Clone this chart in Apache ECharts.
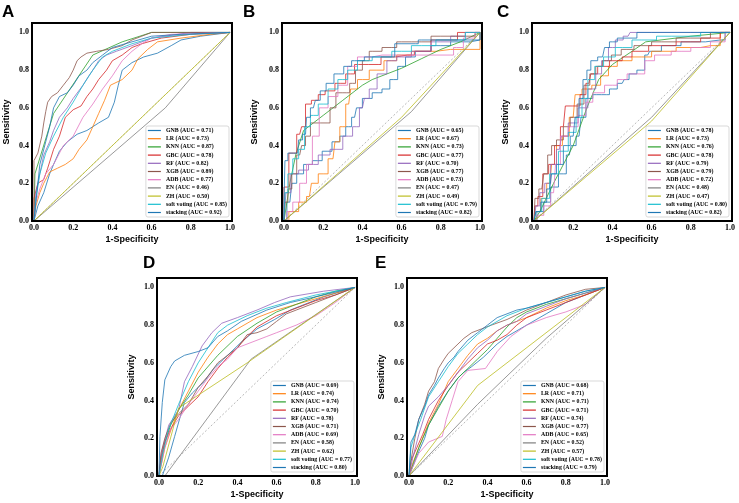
<!DOCTYPE html>
<html><head><meta charset="utf-8">
<script src="https://cdn.jsdelivr.net/npm/echarts@6/dist/echarts.min.js"></script>
<style>html,body{margin:0;padding:0;background:#fff}#c{width:739px;height:503px}</style>
</head><body><div id="c"></div>
<script>
const MODELS = ['GNB','LR','KNN','GBC','RF','XGB','ADB','EN','ZH','soft voting','stacking'];
const COLORS = ['#1f77b4','#ff7f0e','#2ca02c','#d62728','#9467bd','#8c564b','#e377c2','#7f7f7f','#bcbd22','#17becf','#1f77b4'];
const TICKS = [0,0.2,0.4,0.6,0.8,1.0];
const DIAGONAL = [[0,0],[1,1]];

const AUC_A = [0.71,0.73,0.87,0.78,0.82,0.89,0.77,0.46,0.50,0.85,0.92];
const AUC_B = [0.65,0.67,0.73,0.77,0.70,0.77,0.73,0.47,0.49,0.79,0.82];
const AUC_C = [0.78,0.73,0.76,0.78,0.79,0.79,0.72,0.48,0.47,0.80,0.82];
const AUC_D = [0.69,0.74,0.74,0.70,0.78,0.71,0.69,0.58,0.62,0.77,0.80];
const AUC_E = [0.68,0.71,0.71,0.71,0.74,0.77,0.65,0.52,0.57,0.78,0.79];

// ---- Panel A ----
const A_GNB = [[0,0],[0.02,0.08],[0.05,0.15],[0.08,0.25],[0.1,0.3],[0.13,0.37],[0.17,0.42],[0.22,0.46],[0.27,0.48],[0.33,0.52],[0.38,0.55],[0.41,0.63],[0.43,0.72],[0.45,0.8],[0.5,0.84],[0.56,0.87],[0.63,0.89],[0.7,0.93],[0.75,0.96],[0.85,0.98],[1,1]];
const A_LR = [[0,0],[0.01,0.08],[0.03,0.15],[0.05,0.2],[0.08,0.26],[0.12,0.28],[0.16,0.3],[0.2,0.33],[0.23,0.38],[0.27,0.43],[0.3,0.5],[0.33,0.57],[0.36,0.64],[0.39,0.72],[0.45,0.75],[0.5,0.8],[0.53,0.86],[0.58,0.91],[0.63,0.95],[0.75,0.97],[0.9,0.99],[1,1]];
const A_KNN = [[0,0],[0.005,0.25],[0.1,0.57],[0.3,0.88],[0.45,0.95],[0.6,1.0],[1,1]];
const A_GBC = [[0,0],[0,0.12],[0.02,0.2],[0.05,0.22],[0.07,0.28],[0.1,0.38],[0.13,0.45],[0.16,0.55],[0.2,0.59],[0.24,0.61],[0.27,0.66],[0.3,0.7],[0.33,0.75],[0.37,0.8],[0.4,0.85],[0.45,0.88],[0.5,0.92],[0.55,0.94],[0.65,0.97],[0.8,0.99],[1,1]];
const A_RF = [[0,0],[0.01,0.15],[0.03,0.25],[0.05,0.35],[0.08,0.42],[0.1,0.48],[0.13,0.55],[0.17,0.6],[0.2,0.65],[0.25,0.72],[0.28,0.77],[0.3,0.8],[0.33,0.85],[0.37,0.88],[0.42,0.9],[0.5,0.93],[0.6,0.97],[0.8,1.0],[1,1]];
const A_XGB = [[0,0],[0,0.32],[0.02,0.36],[0.04,0.45],[0.05,0.52],[0.06,0.58],[0.07,0.63],[0.09,0.66],[0.12,0.68],[0.15,0.72],[0.18,0.76],[0.2,0.8],[0.22,0.85],[0.24,0.87],[0.27,0.89],[0.32,0.9],[0.38,0.91],[0.45,0.93],[0.5,0.96],[0.55,0.98],[0.6,1.0],[1,1]];
const A_ADB = [[0,0],[0.01,0.1],[0.03,0.17],[0.06,0.25],[0.1,0.3],[0.15,0.4],[0.2,0.45],[0.25,0.55],[0.3,0.62],[0.35,0.7],[0.4,0.77],[0.45,0.85],[0.5,0.9],[0.55,0.94],[0.6,0.97],[0.7,0.99],[1,1]];
const A_EN = [[0,0],[0.67,0.6],[1,1]];
const A_ZH = [[0,0],[1,1]];
const A_SOFT = [[0,0],[0.01,0.12],[0.03,0.25],[0.06,0.36],[0.1,0.45],[0.15,0.55],[0.2,0.63],[0.25,0.72],[0.3,0.8],[0.35,0.87],[0.4,0.9],[0.5,0.94],[0.6,0.97],[0.8,0.99],[1,1]];
const A_STACK = [[0,0],[0.01,0.1],[0.03,0.3],[0.06,0.42],[0.08,0.5],[0.1,0.6],[0.13,0.66],[0.17,0.68],[0.2,0.72],[0.23,0.77],[0.27,0.8],[0.3,0.84],[0.35,0.88],[0.4,0.92],[0.5,0.95],[0.6,0.98],[0.75,0.99],[1,1]];

// ---- Panel B ----
const B_GNB = [[0,0],[0.03,0.1],[0.05,0.2],[0.08,0.25],[0.12,0.3],[0.17,0.32],[0.22,0.37],[0.27,0.42],[0.3,0.45],[0.33,0.5],[0.36,0.55],[0.38,0.6],[0.42,0.65],[0.48,0.68],[0.52,0.7],[0.56,0.75],[0.6,0.82],[0.64,0.87],[0.7,0.9],[0.8,0.93],[0.9,0.95],[1,0.96],[1,1]];
const B_LR = [[0,0],[0.05,0.05],[0.1,0.1],[0.13,0.13],[0.15,0.2],[0.2,0.25],[0.25,0.33],[0.27,0.42],[0.3,0.5],[0.33,0.62],[0.35,0.7],[0.4,0.75],[0.47,0.8],[0.55,0.85],[0.6,0.88],[0.7,0.9],[0.85,0.91],[1,0.91],[1,1]];
const B_KNN = [[0,0],[0.03,0.2],[0.06,0.35],[0.1,0.48],[0.15,0.52],[0.2,0.56],[0.3,0.64],[0.4,0.72],[0.45,0.75],[0.5,0.77],[0.6,0.81],[0.7,0.86],[0.8,0.91],[0.9,0.95],[1,1]];
const B_GBC = [[0,0],[0,0.18],[0.05,0.36],[0.08,0.46],[0.1,0.5],[0.12,0.62],[0.16,0.64],[0.19,0.67],[0.23,0.69],[0.29,0.73],[0.34,0.78],[0.38,0.83],[0.48,0.83],[0.51,0.87],[0.63,0.88],[0.7,0.9],[0.8,0.96],[0.97,1.0],[1,1]];
const B_RF = [[0,0],[0.02,0.15],[0.05,0.25],[0.1,0.27],[0.15,0.3],[0.2,0.35],[0.27,0.38],[0.33,0.45],[0.37,0.5],[0.4,0.6],[0.42,0.65],[0.45,0.7],[0.5,0.78],[0.55,0.85],[0.6,0.87],[0.7,0.9],[0.8,0.95],[0.9,0.98],[0.95,1],[1,1]];
const B_XGB = [[0,0],[0.01,0.1],[0.03,0.17],[0.05,0.25],[0.08,0.35],[0.1,0.4],[0.12,0.45],[0.15,0.52],[0.22,0.52],[0.25,0.6],[0.28,0.68],[0.32,0.68],[0.35,0.73],[0.38,0.8],[0.42,0.85],[0.45,0.9],[0.55,0.92],[0.6,0.95],[0.7,0.95],[0.8,0.98],[0.95,0.98],[1,1]];
const B_ADB = [[0,0],[0.03,0.05],[0.06,0.1],[0.1,0.2],[0.13,0.3],[0.16,0.45],[0.2,0.6],[0.25,0.66],[0.3,0.72],[0.35,0.82],[0.4,0.87],[0.5,0.88],[0.6,0.88],[0.85,0.88],[0.88,0.92],[0.95,0.97],[1,1]];
const B_EN = [[0,0],[0.65,0.58],[1,1]];
const B_ZH = [[0,0],[0.6,0.55],[1,1]];
const B_SOFT = [[0,0],[0.01,0.15],[0.03,0.25],[0.06,0.33],[0.09,0.38],[0.12,0.5],[0.15,0.56],[0.2,0.62],[0.25,0.7],[0.3,0.75],[0.35,0.8],[0.4,0.85],[0.5,0.87],[0.6,0.9],[0.7,0.93],[0.85,0.96],[1,1]];
const B_STACK = [[0,0],[0,0.1],[0.01,0.32],[0.03,0.36],[0.07,0.36],[0.08,0.43],[0.11,0.46],[0.12,0.55],[0.15,0.6],[0.17,0.64],[0.2,0.69],[0.23,0.73],[0.28,0.78],[0.33,0.82],[0.36,0.85],[0.46,0.87],[0.67,0.94],[0.7,0.96],[1,0.96],[1,1]];

// ---- Panel C ----
const C_GNB = [[0,0],[0.03,0.05],[0.07,0.1],[0.1,0.18],[0.15,0.25],[0.18,0.35],[0.2,0.4],[0.23,0.45],[0.25,0.55],[0.28,0.65],[0.32,0.67],[0.37,0.67],[0.4,0.7],[0.45,0.73],[0.47,0.75],[0.5,0.78],[0.55,0.8],[0.58,0.88],[0.6,0.9],[0.7,0.93],[0.8,0.95],[0.95,0.96],[1,1]];
const C_LR = [[0,0],[0.02,0.05],[0.05,0.12],[0.08,0.2],[0.1,0.3],[0.13,0.4],[0.16,0.45],[0.2,0.55],[0.22,0.67],[0.27,0.7],[0.32,0.72],[0.36,0.77],[0.4,0.82],[0.45,0.85],[0.55,0.87],[0.65,0.9],[0.8,0.92],[0.9,0.93],[1,1]];
const C_KNN = [[0,0],[0.03,0.05],[0.1,0.2],[0.2,0.4],[0.27,0.6],[0.33,0.75],[0.4,0.83],[0.5,0.9],[0.57,0.95],[0.8,0.98],[1,1]];
const C_GBC = [[0,0],[0.01,0.08],[0.03,0.13],[0.06,0.25],[0.09,0.3],[0.12,0.4],[0.15,0.5],[0.17,0.61],[0.22,0.61],[0.25,0.67],[0.28,0.73],[0.3,0.78],[0.35,0.82],[0.42,0.85],[0.48,0.87],[0.52,0.9],[0.65,0.93],[0.8,0.95],[0.9,0.97],[1,1]];
const C_RF = [[0,0],[0.02,0.08],[0.04,0.15],[0.07,0.2],[0.1,0.3],[0.13,0.38],[0.15,0.45],[0.2,0.52],[0.25,0.6],[0.3,0.7],[0.33,0.78],[0.36,0.85],[0.4,0.92],[0.43,0.96],[0.48,0.98],[0.5,1],[1,1]];
const C_XGB = [[0,0],[0.01,0.12],[0.04,0.17],[0.06,0.25],[0.08,0.35],[0.1,0.4],[0.13,0.43],[0.17,0.5],[0.2,0.55],[0.24,0.62],[0.27,0.72],[0.3,0.78],[0.33,0.82],[0.37,0.85],[0.42,0.88],[0.47,0.91],[0.55,0.93],[0.65,0.95],[0.8,0.97],[1,1]];
const C_ADB = [[0,0],[0.03,0.03],[0.07,0.08],[0.1,0.15],[0.12,0.3],[0.15,0.45],[0.2,0.5],[0.25,0.56],[0.28,0.63],[0.32,0.68],[0.4,0.72],[0.45,0.75],[0.5,0.78],[0.55,0.78],[0.58,0.85],[0.65,0.88],[0.75,0.9],[0.85,0.92],[0.95,0.95],[1,1]];
const C_EN = [[0,0],[0.6,0.55],[1,1]];
const C_ZH = [[0,0],[0.6,0.53],[1,1]];
const C_SOFT = [[0,0],[0.02,0.05],[0.06,0.12],[0.1,0.25],[0.15,0.37],[0.2,0.47],[0.23,0.55],[0.26,0.65],[0.29,0.75],[0.33,0.82],[0.38,0.87],[0.45,0.92],[0.55,0.96],[0.7,0.98],[1,1]];
const C_STACK = [[0,0],[0.02,0.05],[0.05,0.1],[0.08,0.17],[0.1,0.25],[0.13,0.3],[0.17,0.4],[0.2,0.45],[0.22,0.55],[0.24,0.65],[0.26,0.75],[0.28,0.8],[0.3,0.85],[0.35,0.87],[0.37,0.92],[0.4,0.95],[0.45,0.97],[0.6,1],[1,1]];

// ---- Panel D ----
const D_GNB = [[0,0],[0.017,0],[0.05,0.1],[0.08,0.21],[0.11,0.32],[0.13,0.39],[0.17,0.44],[0.23,0.5],[0.28,0.57],[0.33,0.62],[0.42,0.71],[0.5,0.78],[0.59,0.83],[0.67,0.88],[0.84,0.95],[1,1]];
const D_LR = [[0,0],[0.01,0.05],[0.03,0.15],[0.07,0.27],[0.1,0.35],[0.15,0.45],[0.2,0.55],[0.25,0.63],[0.3,0.7],[0.35,0.75],[0.4,0.78],[0.5,0.84],[0.6,0.88],[0.7,0.91],[0.8,0.94],[0.9,0.97],[1,1]];
const D_KNN = [[0,0],[0.01,0.08],[0.03,0.18],[0.06,0.27],[0.1,0.35],[0.15,0.43],[0.2,0.52],[0.3,0.64],[0.4,0.74],[0.5,0.81],[0.6,0.87],[0.7,0.91],[0.8,0.95],[0.9,0.98],[1,1]];
const D_GBC = [[0,0],[0.01,0.1],[0.03,0.18],[0.06,0.25],[0.1,0.32],[0.15,0.37],[0.2,0.42],[0.25,0.5],[0.3,0.57],[0.35,0.63],[0.4,0.68],[0.45,0.74],[0.5,0.79],[0.6,0.85],[0.7,0.89],[0.8,0.93],[0.9,0.96],[1,1]];
const D_RF = [[0,0],[0.017,0.14],[0.05,0.27],[0.1,0.35],[0.13,0.5],[0.17,0.58],[0.22,0.69],[0.27,0.76],[0.32,0.81],[0.4,0.84],[0.5,0.88],[0.59,0.92],[0.67,0.95],[0.84,0.98],[1,1]];
const D_XGB = [[0,0],[0.01,0.12],[0.03,0.2],[0.06,0.28],[0.1,0.33],[0.15,0.38],[0.2,0.47],[0.25,0.53],[0.3,0.6],[0.35,0.64],[0.4,0.68],[0.45,0.75],[0.5,0.76],[0.55,0.78],[0.6,0.82],[0.65,0.86],[0.7,0.88],[0.8,0.92],[0.9,0.96],[1,1]];
const D_ADB = [[0,0],[0.01,0.05],[0.03,0.15],[0.06,0.25],[0.1,0.3],[0.15,0.38],[0.2,0.45],[0.25,0.52],[0.3,0.58],[0.35,0.62],[0.4,0.68],[0.5,0.72],[0.55,0.74],[0.6,0.76],[0.7,0.8],[0.8,0.85],[0.9,0.92],[1,1]];
const D_EN = [[0,0],[0.03,0],[0.47,0.62],[1,1]];
const D_ZH = [[0,0],[0.02,0.05],[0.1,0.36],[0.45,0.6],[1,1]];
const D_SOFT = [[0,0],[0.02,0.12],[0.05,0.25],[0.1,0.38],[0.15,0.5],[0.2,0.6],[0.25,0.68],[0.3,0.76],[0.35,0.8],[0.45,0.85],[0.55,0.89],[0.65,0.92],[0.8,0.96],[1,1]];
const D_STACK = [[0,0],[0.005,0.21],[0.017,0.39],[0.03,0.51],[0.06,0.58],[0.08,0.61],[0.13,0.64],[0.2,0.66],[0.25,0.68],[0.3,0.74],[0.35,0.77],[0.42,0.82],[0.55,0.88],[0.67,0.92],[0.84,0.96],[1,1]];

// ---- Panel E ----
const E_GNB = [[0,0],[0.02,0.05],[0.05,0.13],[0.08,0.2],[0.1,0.27],[0.15,0.37],[0.2,0.45],[0.25,0.52],[0.28,0.55],[0.32,0.58],[0.38,0.63],[0.45,0.7],[0.5,0.74],[0.6,0.8],[0.7,0.86],[0.8,0.92],[0.9,0.96],[1,1]];
const E_LR = [[0,0],[0.02,0.07],[0.05,0.15],[0.1,0.28],[0.15,0.38],[0.2,0.5],[0.25,0.57],[0.3,0.64],[0.35,0.7],[0.4,0.73],[0.45,0.77],[0.5,0.8],[0.6,0.84],[0.7,0.89],[0.8,0.93],[0.9,0.96],[1,1]];
const E_KNN = [[0,0],[0.02,0.06],[0.05,0.15],[0.1,0.27],[0.15,0.36],[0.2,0.45],[0.25,0.52],[0.3,0.57],[0.35,0.62],[0.4,0.67],[0.45,0.73],[0.5,0.79],[0.55,0.84],[0.6,0.87],[0.7,0.91],[0.8,0.94],[0.9,0.97],[1,1]];
const E_GBC = [[0,0],[0.01,0.08],[0.04,0.15],[0.07,0.22],[0.1,0.3],[0.15,0.4],[0.2,0.48],[0.25,0.55],[0.3,0.6],[0.35,0.65],[0.4,0.7],[0.45,0.72],[0.5,0.75],[0.55,0.8],[0.6,0.84],[0.7,0.88],[0.8,0.92],[0.9,0.96],[1,1]];
const E_RF = [[0,0],[0.02,0.1],[0.05,0.22],[0.08,0.32],[0.1,0.37],[0.15,0.42],[0.2,0.48],[0.25,0.55],[0.3,0.62],[0.35,0.68],[0.4,0.72],[0.45,0.77],[0.5,0.8],[0.55,0.82],[0.6,0.86],[0.7,0.9],[0.8,0.94],[0.9,0.97],[1,1]];
const E_XGB = [[0,0],[0.01,0.08],[0.03,0.2],[0.05,0.3],[0.08,0.38],[0.1,0.45],[0.13,0.5],[0.15,0.57],[0.18,0.62],[0.2,0.65],[0.25,0.7],[0.28,0.73],[0.32,0.76],[0.37,0.78],[0.42,0.8],[0.5,0.83],[0.6,0.88],[0.7,0.92],[0.8,0.96],[0.9,0.99],[1,1]];
const E_ADB = [[0,0],[0.02,0.05],[0.05,0.12],[0.1,0.18],[0.17,0.21],[0.19,0.3],[0.22,0.4],[0.25,0.5],[0.3,0.56],[0.39,0.57],[0.45,0.66],[0.52,0.74],[0.6,0.8],[0.7,0.84],[0.8,0.87],[0.9,0.91],[1,1]];
const E_EN = [[0,0],[0.35,0.38],[0.7,0.73],[1,1]];
const E_ZH = [[0,0],[0.35,0.48],[1,1]];
const E_SOFT = [[0,0],[0.01,0.15],[0.03,0.22],[0.06,0.3],[0.1,0.42],[0.15,0.5],[0.2,0.58],[0.25,0.65],[0.3,0.7],[0.35,0.75],[0.4,0.79],[0.5,0.85],[0.6,0.89],[0.7,0.92],[0.8,0.95],[0.9,0.98],[1,1]];
const E_STACK = [[0,0],[0.01,0.18],[0.03,0.22],[0.05,0.3],[0.08,0.37],[0.1,0.43],[0.13,0.48],[0.15,0.52],[0.18,0.57],[0.2,0.6],[0.23,0.63],[0.25,0.66],[0.3,0.72],[0.35,0.76],[0.4,0.8],[0.45,0.84],[0.5,0.86],[0.55,0.88],[0.6,0.89],[0.7,0.92],[0.8,0.95],[0.9,0.98],[1,1]];

const PANELS = [
  {letter:'A', auc:AUC_A, curves:[A_GNB,A_LR,A_KNN,A_GBC,A_RF,A_XGB,A_ADB,A_EN,A_ZH,A_SOFT,A_STACK], left:32, top:23, lx:2, ly:4, yGap:21, step:false},
  {letter:'B', auc:AUC_B, curves:[B_GNB,B_LR,B_KNN,B_GBC,B_RF,B_XGB,B_ADB,B_EN,B_ZH,B_SOFT,B_STACK], left:282, top:23, lx:243, ly:4, yGap:23, step:true},
  {letter:'C', auc:AUC_C, curves:[C_GNB,C_LR,C_KNN,C_GBC,C_RF,C_XGB,C_ADB,C_EN,C_ZH,C_SOFT,C_STACK], left:532, top:23, lx:497, ly:4, yGap:22, step:true},
  {letter:'D', auc:AUC_D, curves:[D_GNB,D_LR,D_KNN,D_GBC,D_RF,D_XGB,D_ADB,D_EN,D_ZH,D_SOFT,D_STACK], left:157, top:278, lx:143, ly:255, yGap:21, step:false},
  {letter:'E', auc:AUC_E, curves:[E_GNB,E_LR,E_KNN,E_GBC,E_RF,E_XGB,E_ADB,E_EN,E_ZH,E_SOFT,E_STACK], left:407, top:278, lx:375, ly:255, yGap:21, step:false}
];
const W = 200, H = 198;
const NOSTEP = ['KNN','EN','ZH'];

const grid = [], xAxis = [], yAxis = [], series = [], legend = [], graphic = [];
const tickFont = {fontFamily:'Liberation Serif', fontWeight:'bold', fontSize:8, color:'#000'};
const nameFont = {fontFamily:'Liberation Sans', fontWeight:'bold', fontSize:9, color:'#000'};

PANELS.forEach((p, i) => {
  grid.push({left:p.left, top:p.top, width:W, height:H, show:true, borderColor:'#000', borderWidth:2, backgroundColor:'transparent', z:5});
  xAxis.push({type:'value', gridIndex:i, min:-0.01, max:1.01,
    axisLine:{show:false}, axisTick:{show:false}, splitLine:{show:false},
    axisLabel:Object.assign({margin:3, customValues:TICKS, formatter:v=>v.toFixed(1)}, tickFont),
    name:'1-Specificity', nameLocation:'middle', nameGap:14, nameTextStyle:nameFont});
  yAxis.push({type:'value', gridIndex:i, min:0, max:1.05,
    axisLine:{show:false}, axisTick:{show:false}, splitLine:{show:false},
    axisLabel:Object.assign({margin:3, customValues:TICKS, formatter:v=>v.toFixed(1)}, tickFont),
    name:'Sensitivity', nameLocation:'middle', nameGap:p.yGap, nameTextStyle:nameFont});
  const names = [];
  MODELS.forEach((m, k) => {
    const nm = m + ' (AUC = ' + p.auc[k].toFixed(2) + ')';
    names.push(nm);
    series.push({type:'line', name:nm, xAxisIndex:i, yAxisIndex:i, data:p.curves[k],
      symbol:'none', showSymbol:false, animation:false,
      step:(p.step && NOSTEP.indexOf(m) < 0) ? 'middle' : false,
      color:COLORS[k], lineStyle:{width:1, color:COLORS[k], opacity:0.8}, z:2});
  });
  series.push({type:'line', name:'chance', xAxisIndex:i, yAxisIndex:i, data:DIAGONAL,
    symbol:'none', animation:false, silent:true,
    lineStyle:{width:0.7, color:'#9a9a9a', type:[2,2]}, z:1});
  legend.push({data:names, orient:'vertical', right:739-(p.left+W-3), bottom:503-(p.top+H-4),
    icon:'rect', itemWidth:13, itemHeight:1.2, itemGap:1.2, padding:[1,2,1,2],
    borderColor:'#cfcfcf', borderWidth:0.8, borderRadius:2, backgroundColor:'rgba(255,255,255,0.85)',
    textStyle:{fontFamily:'Liberation Serif', fontWeight:'bold', fontSize:5.9, lineHeight:7, color:'#000'},
    selectedMode:false, z:10});
  graphic.push({type:'text', left:p.lx, top:p.ly, style:{text:p.letter, font:'bold 17px "Liberation Sans"', fill:'#000'}});
});

const chart = echarts.init(document.getElementById('c'), null, {renderer:'canvas'});
chart.setOption({backgroundColor:'#fff', animation:false, grid, xAxis, yAxis, series, legend, graphic});
</script></body></html>
